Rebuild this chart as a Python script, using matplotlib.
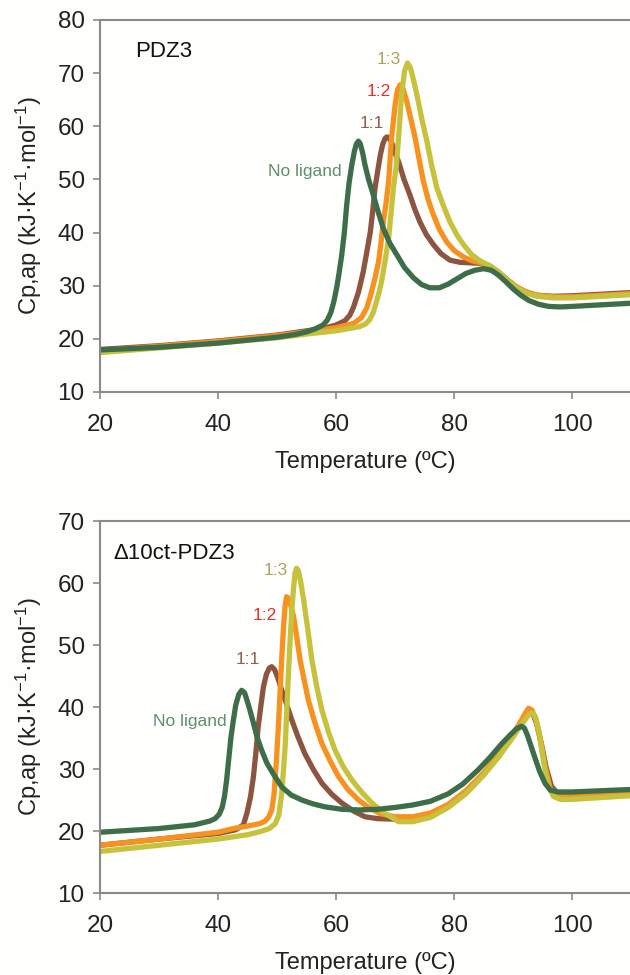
import matplotlib
matplotlib.use("Agg")
import matplotlib.pyplot as plt

plt.rcParams['font.family'] = ['Liberation Sans', 'DejaVu Sans']
plt.rcParams['mathtext.default'] = 'regular'

# PDZ3 (panel superior)
t_nolig_a = [20, 30, 40, 50, 53, 55, 56.5, 57.8, 58.5, 59.1, 59.6, 60.1, 60.5, 60.96, 61.4, 61.8, 62.2,
             62.66, 63.1, 63.45, 63.78, 64.1, 64.5, 64.9, 65.5, 66.3, 67.1, 68.0, 69.1, 70.3, 71.6, 73.1,
             74.5, 75.9, 77.5, 79, 80.5, 82, 83.5, 85, 86.3, 87.5, 88.7, 90, 91.3, 92.7, 94.3, 96, 98, 100,
             105, 110]
cp_nolig_a = [17.9, 18.4, 19.2, 20.3, 20.8, 21.3, 21.9, 22.6, 23.5, 24.9, 26.9, 29.6, 32.3, 35.8, 40.0, 45.2,
              49.3, 52.7, 55.3, 56.7, 57.2, 56.7, 55.0, 52.7, 50.0, 47.1, 44.0, 40.8, 38.0, 35.8, 33.4, 31.5,
              30.2, 29.6, 29.6, 30.3, 31.3, 32.3, 32.9, 33.2, 32.9, 32.0, 30.8, 29.4, 28.2, 27.2, 26.5, 26.1,
              26.0, 26.1, 26.4, 26.7]

t_11_a = [20, 30, 40, 50, 55, 58, 60, 61.5, 62.3, 62.9, 63.8, 64.6, 65.2, 65.8, 66.2, 66.6, 67.1, 67.5,
          67.9, 68.3, 68.6, 69.0, 69.5, 70.0, 70.6, 71.5, 72.5, 73.3, 74.2, 75.3, 76.5, 77.8, 79.3, 81, 82.7,
          84.5, 86, 87.5, 89, 90.5, 92, 94, 96.8, 100, 105, 110]
cp_11_a = [18.0, 18.7, 19.6, 20.7, 21.5, 22.0, 22.6, 23.4, 24.4, 25.8, 28.8, 32.6, 36.3, 40.1, 44.0, 48.4,
           51.9, 54.6, 56.6, 57.7, 58.0, 57.8, 56.7, 55.0, 53.3, 50.0, 47.1, 44.5, 42.0, 39.6, 37.7, 36.0,
           34.8, 34.4, 34.3, 34.2, 33.7, 32.6, 31.1, 29.8, 28.9, 28.2, 28.0, 28.1, 28.4, 28.7]

t_12_a = [20, 30, 40, 50, 55, 60, 63, 64.3, 65.2, 65.8, 66.5, 67.2, 67.6, 68.0, 68.5, 68.9, 69.4, 70.0,
          70.4, 70.85, 71.3, 72.0, 72.7, 73.4, 74.1, 74.8, 75.6, 76.5, 77.5, 78.7, 80.0, 81.6, 83, 84.5, 86,
          87.5, 89, 90.5, 92, 94, 96.8, 100, 105, 110]
cp_12_a = [17.8, 18.6, 19.5, 20.6, 21.3, 22.1, 22.9, 24.0, 25.8, 28.0, 31.0, 34.5, 38.0, 42.0, 45.8, 49.6,
           57.8, 64.0, 66.8, 67.8, 67.2, 64.6, 61.2, 57.8, 53.6, 49.6, 46.2, 43.3, 40.6, 38.3, 36.6, 35.4,
           34.7, 34.3, 33.7, 32.6, 31.1, 29.8, 28.9, 28.2, 27.9, 27.9, 28.2, 28.5]

t_13_a = [20, 30, 40, 50, 55, 60, 64, 65, 65.7, 66.3, 66.8, 67.3, 67.7, 68.3, 68.9, 69.3, 69.7, 70.2, 70.6,
          71.1, 71.6, 72.1, 72.6, 73.1, 73.7, 74.5, 75.4, 76.2, 77.1, 78.2, 79.3, 80.5, 81.6, 83, 84.5, 86,
          87.5, 89, 90.5, 92, 94, 96.8, 100, 105, 110]
cp_13_a = [17.4, 18.3, 19.2, 20.2, 20.9, 21.5, 22.3, 22.8, 23.6, 25.0, 26.8, 28.8, 30.8, 34.6, 38.9, 43.5,
           48.3, 52.5, 58.0, 66.0, 70.4, 71.9, 71.0, 68.8, 65.9, 61.5, 57.1, 52.6, 48.3, 45.0, 42.0, 39.5,
           37.7, 35.8, 34.6, 33.8, 32.6, 31.0, 29.7, 28.7, 28.0, 27.7, 27.7, 28.0, 28.3]

# D10ct-PDZ3 (panel inferior)
t_nolig_b = [20, 30, 36, 38.6, 39.5, 40.2, 40.7, 41.1, 41.45, 41.8, 42.2, 42.6, 43.0, 43.5, 44.0, 44.5, 45.0,
             45.4, 46.0, 46.6, 47.4, 48.3, 49.5, 50.8, 52.4, 54.2, 56.0, 58.1, 61, 64, 67, 70, 73, 76, 79,
             81.5, 84, 86, 88, 89.5, 90.6, 91.4, 91.9, 92.4, 93.0, 93.7, 94.5, 95.4, 96.3, 97.5, 100, 105, 110]
cp_nolig_b = [19.8, 20.4, 21.0, 21.6, 22.0, 22.7, 23.8, 25.6, 28.2, 31.5, 35.2, 37.9, 40.3, 42.0, 42.7, 42.3,
              40.8, 39.5, 37.4, 35.2, 33.0, 30.9, 29.0, 27.1, 25.8, 25.0, 24.4, 23.9, 23.5, 23.4, 23.5, 23.8,
              24.2, 24.8, 26.0, 27.6, 29.8, 31.8, 34.0, 35.5, 36.5, 36.9, 36.6, 35.5, 33.8, 31.8, 29.6, 27.7,
              26.6, 26.3, 26.3, 26.5, 26.7]

t_11_b = [20, 30, 40, 43, 44.3, 44.9, 45.5, 46.0, 46.4, 46.8, 47.3, 47.7, 48.2, 48.7, 49.1, 49.6, 50.2,
          50.8, 51.6, 52.5, 53.5, 54.7, 56.1, 57.6, 59.3, 61.0, 63.0, 64.9, 67, 70, 73, 76, 79, 82, 85, 87.5,
          89.5, 91, 92, 92.7, 93.3, 94, 94.8, 95.6, 96.5, 98, 100, 105, 110]
cp_11_b = [17.7, 18.7, 19.6, 20.2, 21.0, 22.9, 25.5, 28.8, 32.5, 36.8, 40.5, 43.3, 45.3, 46.3, 46.5, 46.0,
           44.5, 42.7, 40.5, 37.9, 35.3, 32.5, 30.0, 27.7, 25.9, 24.5, 23.2, 22.3, 22.0, 21.9, 22.1, 22.8,
           24.2, 26.3, 29.2, 32.0, 34.8, 37.0, 38.6, 39.3, 39.0, 37.3, 34.0, 30.2, 27.2, 25.6, 25.5, 25.8,
           26.0]

t_12_b = [20, 30, 40, 42.6, 45, 47.1, 48.0, 48.6, 49.1, 49.5, 49.9, 50.2, 50.5, 50.8, 51.1, 51.35, 51.6,
          51.9, 52.3, 52.8, 53.3, 53.9, 54.6, 55.3, 56.4, 57.6, 59.0, 60.4, 62.0, 63.8, 65.5, 67.5, 70, 73,
          76, 79, 82, 85, 87.5, 89.5, 91, 92, 92.6, 93.2, 93.9, 94.7, 95.5, 96.3, 98, 100, 105, 110]
cp_12_b = [17.7, 18.7, 19.8, 20.4, 20.8, 21.2, 21.6, 22.3, 23.4, 26.0, 31.5, 36.5, 42.2, 48.0, 53.0, 56.2,
           57.8, 57.6, 56.4, 54.6, 51.5, 47.6, 44.3, 41.1, 37.5, 34.1, 31.3, 28.8, 26.7, 25.0, 23.8, 22.8,
           22.3, 22.3, 22.9, 24.3, 26.5, 29.4, 32.3, 35.0, 37.2, 38.9, 39.8, 39.5, 37.8, 34.2, 30.0, 26.8,
           25.5, 25.5, 25.8, 26.0]

t_13_b = [20, 30, 40, 45, 47.1, 48.7, 49.7, 50.3, 50.8, 51.1, 51.4, 51.65, 51.9, 52.2, 52.5, 52.8, 53.05,
          53.3, 53.6, 54.0, 54.5, 55.2, 55.9, 56.7, 57.6, 58.7, 59.8, 61.2, 62.7, 64.4, 66.1, 68, 70.6, 73,
          76, 79, 82, 85, 87.5, 89.5, 91, 92.2, 92.8, 93.3, 93.8, 94.4, 95.1, 95.9, 96.8, 98, 100, 105, 110]
cp_13_b = [16.7, 17.7, 18.7, 19.4, 19.9, 20.4, 21.2, 22.6, 26.1, 30.0, 34.1, 39.5, 44.9, 50.5, 55.6, 59.3,
           61.6, 62.4, 62.0, 60.2, 57.3, 52.6, 47.6, 43.4, 39.5, 36.0, 33.1, 30.4, 28.2, 26.2, 24.5, 23.0,
           21.5, 21.5, 22.2, 23.8, 26.0, 29.0, 31.9, 34.5, 36.6, 38.2, 38.9, 39.0, 38.4, 36.0, 31.5, 27.5,
           25.6, 25.1, 25.1, 25.4, 25.7]

# colores
C_GREEN = '#3e6e49'
C_BROWN = '#8b5541'
C_ORANGE = '#f7921f'
C_YELLOW = '#c6c23c'
TXT_GREEN = '#5f8f6c'
TXT_BROWN = '#8c5f52'
TXT_RED = '#ee2c2c'
TXT_OLIVE = '#aaa55c'
SPINE = '#8a8a8a'

LW = 3.8
FS_TICK = 17.5
FS_LAB = 17

fig = plt.figure(figsize=(6.3, 9.75), dpi=100)
fig.patch.set_facecolor('#fefefc')

ax1 = fig.add_axes([100 / 630, 0.598, 530 / 630, 0.3815])
ax2 = fig.add_axes([100 / 630, 0.0841, 530 / 630, 0.3815])


def style_axes(ax, ylim, yticks):
    ax.set_facecolor('#fefefc')
    ax.set_xlim(20, 109.8)
    ax.set_ylim(*ylim)
    ax.set_xticks([20, 40, 60, 80, 100])
    ax.set_yticks(yticks)
    ax.spines['right'].set_visible(False)
    for s in ['left', 'bottom', 'top']:
        ax.spines[s].set_color(SPINE)
        ax.spines[s].set_linewidth(1.5)
    ax.tick_params(direction='out', length=5, width=1.2, color=SPINE, labelsize=FS_TICK,
                   labelcolor='#222222')
    ax.tick_params(axis='x', pad=11)
    ax.tick_params(axis='y', pad=6)
    ax.set_xlabel('Temperature (ºC)', fontsize=FS_LAB, color='#222222')
    ax.set_ylabel('Cp,ap (kJ·K$^{-1}$·mol$^{-1}$)', fontsize=FS_LAB, color='#222222')
    ax.xaxis.set_label_coords(0.5, -0.158)
    ax.yaxis.set_label_coords(-0.105, 0.5)


def draw_curves(ax, curves):
    for t, cp, c in curves:
        ax.plot(t, cp, color=c, lw=LW, solid_joinstyle='round', solid_capstyle='round')


draw_curves(ax1, [(t_11_a, cp_11_a, C_BROWN), (t_12_a, cp_12_a, C_ORANGE),
                  (t_13_a, cp_13_a, C_YELLOW), (t_nolig_a, cp_nolig_a, C_GREEN)])
draw_curves(ax2, [(t_11_b, cp_11_b, C_BROWN), (t_12_b, cp_12_b, C_ORANGE),
                  (t_13_b, cp_13_b, C_YELLOW), (t_nolig_b, cp_nolig_b, C_GREEN)])

style_axes(ax1, (10, 80), [10, 20, 30, 40, 50, 60, 70, 80])
style_axes(ax2, (10, 70), [10, 20, 30, 40, 50, 60, 70])

# etiquetas
ax1.text(25.9, 74, 'PDZ3', fontsize=16, color='#111111', va='center', ha='left')
ax1.text(54.7, 51.4, 'No ligand', fontsize=12.5, color=TXT_GREEN, ha='center', va='center')
ax1.text(66.1, 60.6, '1:1', fontsize=12.5, color=TXT_BROWN, ha='center', va='center')
ax1.text(67.3, 66.5, '1:2', fontsize=12.5, color=TXT_RED, ha='center', va='center')
ax1.text(68.9, 72.5, '1:3', fontsize=12.5, color=TXT_OLIVE, ha='center', va='center')

ax2.text(22.2, 64.8, 'Δ10ct-PDZ3', fontsize=16, color='#111111', va='center', ha='left')
ax2.text(35.3, 37.6, 'No ligand', fontsize=12.5, color=TXT_GREEN, ha='center', va='center')
ax2.text(45.0, 47.6, '1:1', fontsize=12.5, color=TXT_BROWN, ha='center', va='center')
ax2.text(47.9, 54.7, '1:2', fontsize=12.5, color=TXT_RED, ha='center', va='center')
ax2.text(49.7, 62.1, '1:3', fontsize=12.5, color=TXT_OLIVE, ha='center', va='center')

fig.savefig('out.png', dpi=100, facecolor=fig.get_facecolor())
